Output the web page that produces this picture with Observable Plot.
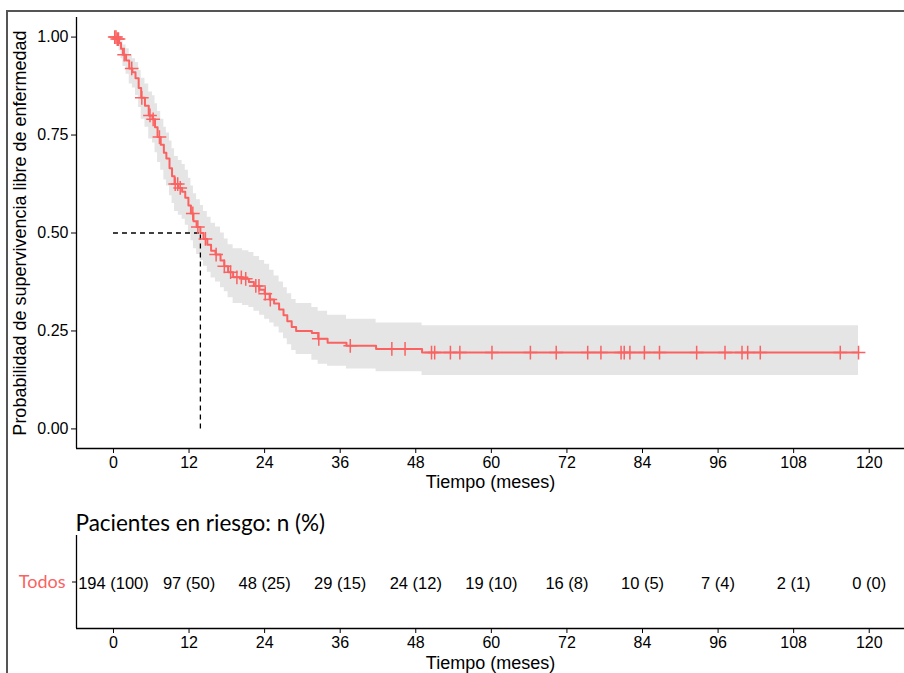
<!DOCTYPE html>
<html><head><meta charset="utf-8">
<script src="https://cdn.jsdelivr.net/npm/d3@7"></script>
<script src="https://cdn.jsdelivr.net/npm/@observablehq/plot@0.6"></script>
<style>
body{margin:0;background:#fff;width:904px;height:673px;overflow:hidden;position:relative;font-family:"Liberation Sans",Arial,sans-serif}
#main{position:absolute;left:0;top:0}
#risk{position:absolute;left:0;top:505px}
#frame{position:absolute;left:6px;top:10px;width:898px;height:663px;border-top:2px solid #555;border-left:2px solid #555;pointer-events:none;box-sizing:border-box}
</style></head><body>
<div id="main"></div><div id="risk"></div><div id="frame"></div>
<script>
// Kaplan-Meier step estimates
const times = [0,0.5,0.9,1.2,1.5,2.0,2.5,3.0,3.5,4.0,4.4,5.0,5.6,6.2,6.6,7.0,7.5,8.0,8.4,8.9,9.3,9.7,10.3,10.9,11.4,11.9,12.3,12.7,13.2,13.8,14.3,14.9,15.5,16.2,17.0,17.6,18.2,19.0,20.5,21.5,22.3,23.2,24.0,24.8,25.5,26.3,27.0,27.6,28.3,29.0,31.5,32.5,34.0,37.0,41.7,49.0,118.3];
const surv  = [1.00,0.995,0.985,0.97,0.955,0.94,0.92,0.91,0.895,0.87,0.845,0.825,0.80,0.79,0.77,0.745,0.725,0.705,0.69,0.665,0.645,0.625,0.615,0.605,0.59,0.57,0.55,0.53,0.515,0.50,0.485,0.47,0.455,0.445,0.43,0.415,0.40,0.387,0.383,0.375,0.365,0.355,0.345,0.33,0.32,0.305,0.29,0.275,0.26,0.25,0.245,0.23,0.22,0.212,0.204,0.195,0.195];
const lower = [1.00,0.985,0.965,0.945,0.925,0.905,0.88,0.87,0.85,0.82,0.79,0.77,0.74,0.73,0.705,0.68,0.66,0.635,0.62,0.595,0.575,0.555,0.545,0.535,0.52,0.50,0.48,0.46,0.445,0.43,0.415,0.40,0.385,0.375,0.36,0.35,0.335,0.32,0.315,0.31,0.30,0.29,0.28,0.27,0.26,0.245,0.23,0.215,0.20,0.19,0.175,0.165,0.16,0.153,0.146,0.136,0.136];
const upper = [1.00,1.00,1.00,0.99,0.98,0.97,0.955,0.945,0.935,0.915,0.895,0.88,0.86,0.85,0.83,0.81,0.79,0.77,0.755,0.735,0.715,0.695,0.685,0.675,0.66,0.64,0.62,0.60,0.585,0.57,0.555,0.54,0.525,0.515,0.50,0.485,0.47,0.46,0.455,0.45,0.44,0.43,0.42,0.405,0.39,0.375,0.36,0.345,0.33,0.32,0.31,0.30,0.29,0.28,0.27,0.263,0.263];
const censorTimes = [0.2,0.4,0.6,0.8,1.7,2.9,4.5,5.8,6.3,7.3,9.8,10.2,10.6,12.6,13.4,14.6,16.3,17.6,18.6,19.6,20.3,21.0,22.6,23.1,24.1,24.9,32.6,37.6,44.2,46.3,50.5,51.0,53.5,55.0,60.1,66.2,70.3,75.3,77.4,80.6,81.1,82.0,84.3,86.7,92.6,97.1,99.8,100.7,102.7,115.4,118.3];
const medianTime = 13.8;
const xTicks = [0,12,24,36,48,60,72,84,96,108,120];
const yTicks = [0,0.25,0.5,0.75,1];
const riskGroup = "Todos";
const riskN   = [194,97,48,29,24,19,16,10,7,2,0];
const riskPct = [100,50,25,15,12,10,8,5,4,1,0];
const xTitle = "Tiempo (meses)";
const yTitle = "Probabilidad de supervivencia libre de enfermedad";
const riskTitle = "Pacientes en riesgo: n (%)";

const red = "#FA6262";
const xDomain = [-5.87, 125.6];
const yDomain = [-0.05, 1.05];
const km = times.map((t, i) => ({t, s: surv[i], lo: lower[i], up: upper[i]}));
const censors = censorTimes.map(t => {
  let s = surv[0];
  for (let i = 0; i < times.length; i++) if (times[i] <= t) s = surv[i];
  return {t, s};
});
const baseStyle = {background: "transparent", fontFamily: "'Liberation Sans', Arial, sans-serif", color: "#000", overflow: "visible"};

const main = Plot.plot({
  width: 904, height: 498,
  marginLeft: 76, marginRight: 0, marginTop: 17, marginBottom: 50,
  x: {domain: xDomain},
  y: {domain: yDomain},
  style: baseStyle,
  marks: [
    Plot.areaY(km, {x: "t", y1: "lo", y2: "up", curve: "step-after", fill: "#e5e5e5"}),
    Plot.ruleY([{y: 0.5, x1: 0, x2: medianTime}], {y: "y", x1: "x1", x2: "x2", stroke: "#000", strokeWidth: 1.3, strokeDasharray: "5,4"}),
    Plot.ruleX([{x: medianTime, y1: 0, y2: 0.5}], {x: "x", y1: "y1", y2: "y2", stroke: "#000", strokeWidth: 1.3, strokeDasharray: "5,4"}),
    Plot.line(km, {x: "t", y: "s", curve: "step-after", stroke: red, strokeWidth: 2}),
    Plot.dot(censors, {x: "t", y: "s", symbol: "plus", r: 4.5, stroke: red, strokeWidth: 1.5}),
    Plot.axisX(xTicks, {tickSize: 5, tickPadding: 3, label: null, fontSize: 16}),
    Plot.axisY(yTicks, {tickSize: 5, tickPadding: 3, tickFormat: d3.format(".2f"), label: null, fontSize: 16}),
    Plot.ruleX([xDomain[0]], {stroke: "#000", strokeWidth: 1.3}),
    Plot.ruleY([yDomain[0]], {stroke: "#000", strokeWidth: 1.3}),
    Plot.text([xTitle], {text: d => d, frameAnchor: "bottom", dy: 34, lineAnchor: "middle", fontSize: 18}),
    Plot.text([yTitle], {text: d => d, frameAnchor: "left", textAnchor: "middle", dx: -56, rotate: -90, lineAnchor: "middle", fontSize: 18})
  ]
});
document.getElementById("main").appendChild(main);

const riskData = xTicks.map((t, i) => ({t, y: 0.5, label: `${riskN[i]} (${riskPct[i]})`}));
const risk = Plot.plot({
  width: 904, height: 168,
  marginLeft: 76, marginRight: 0, marginTop: 30, marginBottom: 45,
  x: {domain: xDomain},
  y: {domain: [0, 1]},
  style: baseStyle,
  marks: [
    Plot.text(riskData, {x: "t", y: "y", text: "label", fontSize: 16.5, dy: 1.5}),
    Plot.text([{t: xDomain[0], y: 0.5, g: riskGroup}], {x: "t", y: "y", text: "g", textAnchor: "end", dx: -11, fill: red, fontFamily: "Lato, 'Open Sans', sans-serif", fontSize: 18}),
    Plot.axisY([0.5], {tickSize: 4, tickFormat: () => "", label: null}),
    Plot.axisX(xTicks, {tickSize: 5, tickPadding: 3, label: null, fontSize: 16}),
    Plot.ruleX([xDomain[0]], {stroke: "#000", strokeWidth: 1.3}),
    Plot.ruleY([0], {stroke: "#000", strokeWidth: 1.3}),
    Plot.text([riskTitle], {text: d => d, frameAnchor: "top-left", textAnchor: "start", lineAnchor: "bottom", dy: -5, dx: -1, fontFamily: "Lato, 'Open Sans', sans-serif", fontSize: 22.5}),
    Plot.text([xTitle], {text: d => d, frameAnchor: "bottom", dy: 35, lineAnchor: "middle", fontSize: 18})
  ]
});
document.getElementById("risk").appendChild(risk);
</script>
</body></html>
